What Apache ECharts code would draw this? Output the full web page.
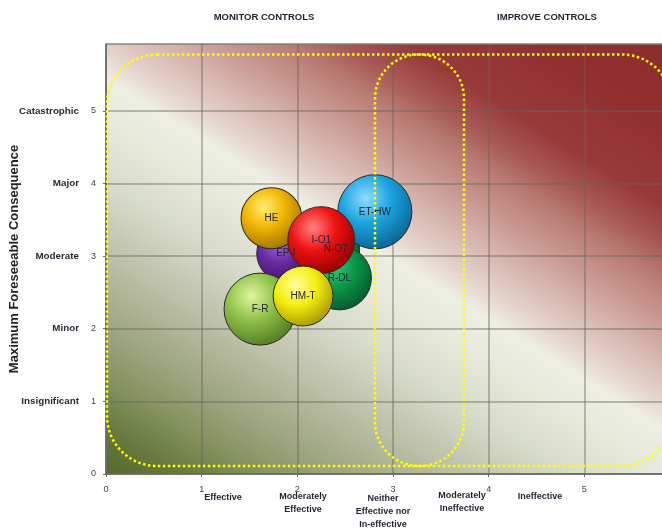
<!DOCTYPE html>
<html>
<head>
<meta charset="utf-8">
<script src="https://cdn.jsdelivr.net/npm/echarts@6/dist/echarts.min.js"></script>
<style>
html,body{margin:0;padding:0;background:#fff;}
#c{width:662px;height:532px;}
</style>
</head>
<body>
<div id="c"></div>
<script>
// ---- data ----
const names   = ['N-O7', 'EP-I', 'R-DL', 'ET-HW', 'HE', 'F-R', 'I-O1', 'HM-T'];
const xValues = [2.40, 1.88, 2.44, 2.81, 1.73, 1.61, 2.25, 2.06];
const yValues = [3.09, 3.04, 2.70, 3.61, 3.52, 2.27, 3.22, 2.45];
const sizes   = [36, 53, 64, 86, 58, 81, 70, 56];
const consequenceNames = ['', 'Insignificant', 'Minor', 'Moderate', 'Major', 'Catastrophic'];
const effectivenessLabels = ['Effective', 'Moderately\nEffective', 'Neither\nEffective nor\nIn-effective', 'Moderately\nIneffective', 'Ineffective'];
const zoneLabels = ['MONITOR CONTROLS', 'IMPROVE CONTROLS'];

// ---- styles ----
const palette = {
  'N-O7': ['#3fd07a', '#0a9a48', '#04552a'],
  'EP-I': ['#a070d8', '#6a2aa0', '#3a1060'],
  'R-DL': ['#3fd07a', '#0a9a48', '#04552a'],
  'ET-HW': ['#8fdcff', '#1aa3e0', '#0b5e8a'],
  'HE': ['#fff070', '#f0b400', '#9a6a00'],
  'F-R': ['#e0f5a0', '#8fc04a', '#4e7420'],
  'I-O1': ['#ff8080', '#ee1111', '#8a0000'],
  'HM-T': ['#ffffa0', '#f5ee10', '#9a9000']
};
function sphere(c) {
  return new echarts.graphic.RadialGradient(0.38, 0.32, 0.75, [
    {offset: 0, color: c[0]},
    {offset: 0.45, color: c[1]},
    {offset: 1, color: c[2]}
  ]);
}

const chart = echarts.init(document.getElementById('c'), null, {renderer: 'canvas'});
const font = 'Liberation Sans';

// background gradient (positions along diagonal remapped into 0..1)
const bgStops = [
  [-0.16, '#566a2e'], [-0.08, '#687a3e'], [0.0, '#84925f'], [0.08, '#9ca47f'],
  [0.16, '#b0b698'], [0.24, '#c4c8b2'], [0.33, '#d8dccb'], [0.42, '#e6e9da'],
  [0.5, '#eeeee4'], [0.55, '#e4d2cb'], [0.6, '#d9bdb5'],
  [0.68, '#c89890'], [0.75, '#b87a72'], [0.8, '#a85a56'], [0.87, '#983a3a'],
  [1.0, '#923030'], [1.14, '#8e2b2b']
];
const bg = new echarts.graphic.LinearGradient(214.8, 542.8, 565.8, -16.2,
  bgStops.map(s => ({offset: (s[0] + 0.16) / 1.3, color: s[1]})), true);

const seriesData = names.map((n, i) => ({
  name: n,
  value: [xValues[i], yValues[i], sizes[i]],
  itemStyle: {color: sphere(palette[n])}
}));

const bottomTexts = [
  {t: effectivenessLabels[0], x: 223, y: 498},
  {t: effectivenessLabels[1], x: 303, y: 503},
  {t: effectivenessLabels[2], x: 383, y: 512},
  {t: effectivenessLabels[3], x: 462, y: 502},
  {t: effectivenessLabels[4], x: 540, y: 497}
];
const txtFont = 'bold 9.5px "Liberation Sans"';

const option = {
  backgroundColor: '#ffffff',
  animation: false,
  grid: {
    left: 106, top: 44, width: 574, height: 430,
    show: true, backgroundColor: bg, borderColor: '#a0a0a0', borderWidth: 1,
    outerBoundsMode: 'none', containLabel: false
  },
  xAxis: {
    type: 'value', min: 0, max: 6, interval: 1,
    axisLine: {show: true, onZero: false, lineStyle: {color: '#666', width: 1.5}},
    axisTick: {show: true, length: 3, lineStyle: {color: '#666'}},
    axisLabel: {color: '#444', fontSize: 9, fontFamily: font, margin: 11, showMaxLabel: false},
    splitLine: {show: true, lineStyle: {color: 'rgba(100,100,95,0.55)', width: 1.5}}
  },
  yAxis: [{
    type: 'value', min: 0, max: 5.92, interval: 1,
    name: 'Maximum Foreseeable Consequence', nameLocation: 'middle', nameGap: 85, nameRotate: 90,
    nameTextStyle: {fontSize: 13, fontWeight: 'bold', color: '#222', fontFamily: font},
    axisLine: {show: true, onZero: false, lineStyle: {color: '#666', width: 1.5}},
    axisTick: {show: true, length: 3, lineStyle: {color: '#666'}},
    axisLabel: {color: '#444', fontSize: 9, fontFamily: font, margin: 10, showMaxLabel: false},
    splitLine: {show: true, lineStyle: {color: 'rgba(100,100,95,0.55)', width: 1.5}}
  }, {
    type: 'value', min: 0, max: 5.92, interval: 1, position: 'left', offset: 0,
    axisLine: {show: false}, axisTick: {show: false}, splitLine: {show: false},
    axisLabel: {
      color: '#2a2a35', fontSize: 9.8, fontWeight: 'bold', fontFamily: font, margin: 27,
      showMaxLabel: false,
      formatter: v => consequenceNames[Math.round(v)] || ''
    }
  }],
  series: [{
    type: 'scatter',
    data: seriesData,
    symbolSize: v => 8 * Math.sqrt(v[2]),
    itemStyle: {borderColor: '#2a2a2a', borderWidth: 1, opacity: 1},
    label: {
      show: true, position: 'inside', formatter: p => p.name,
      color: '#2a2230', fontSize: 10, fontFamily: font
    },
    emphasis: {disabled: true},
    z: 3
  }],
  graphic: [
    {type: 'rect', z: 10, silent: true,
      shape: {x: 107, y: 54.5, width: 565, height: 411.5, r: 50},
      style: {fill: null, stroke: '#ffff00', lineWidth: 2.5, lineDash: [2.5, 2.5]}},
    {type: 'rect', z: 10, silent: true,
      shape: {x: 375, y: 54.5, width: 89, height: 411.5, r: 44},
      style: {fill: null, stroke: '#ffff00', lineWidth: 2.5, lineDash: [2.5, 2.5]}},
    {type: 'text', z: 10, style: {text: zoneLabels[0], x: 264, y: 17, align: 'center', verticalAlign: 'middle',
      font: txtFont, fill: '#1f2230'}},
    {type: 'text', z: 10, style: {text: zoneLabels[1], x: 547, y: 17, align: 'center', verticalAlign: 'middle',
      font: txtFont, fill: '#1f2230'}}
  ].concat(bottomTexts.map(b => ({
    type: 'text', z: 10,
    style: {text: b.t, x: b.x, y: b.y, align: 'center', verticalAlign: 'middle',
      font: 'bold 9px "Liberation Sans"', lineHeight: 13, fill: '#1f2230'}
  })))
};
chart.setOption(option);
</script>
</body>
</html>
